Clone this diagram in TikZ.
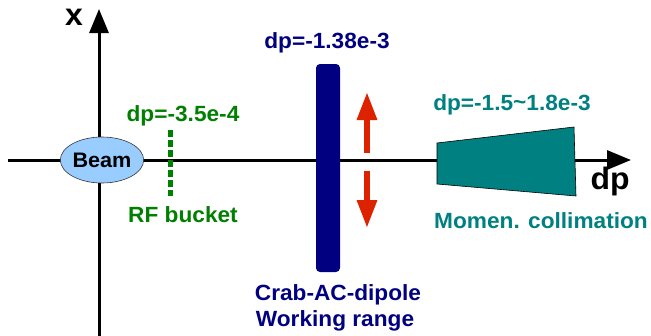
\documentclass[tikz,border=0pt]{standalone}
\usepackage{fontspec}
\setmainfont[FakeStretch=1.03]{Liberation Sans}
\usetikzlibrary{arrows.meta,shapes.geometric}
\definecolor{rfgreen}{RGB}{0,128,0}
\definecolor{crabblue}{RGB}{0,0,128}
\definecolor{colteal}{RGB}{0,128,128}
\definecolor{arrred}{RGB}{221,34,0}
\definecolor{beamblue}{RGB}{153,204,255}
\tikzset{
  lbl/.style={font=\bfseries\fontsize{22}{25}\selectfont, inner sep=0pt},
  axislbl/.style={font=\bfseries\fontsize{31}{34}\selectfont, inner sep=0pt},
  axisline/.style={line width=3pt, -{Triangle[length=24pt,width=19pt]}},
  redarrow/.style={line width=6pt, arrred, -{Triangle[length=28pt,width=19pt]}},
}
\begin{document}
\begin{tikzpicture}[x=1pt,y=-1pt]
\useasboundingbox (0,0) rectangle (651,335);
% axes
\coordinate (hstart) at (8,160);
\coordinate (hend) at (631,160);
\coordinate (vstart) at (99,336);
\coordinate (vend) at (99,9);
\draw[axisline] (hstart) -- (hend);
\draw[axisline] (vstart) -- (vend);
\node[axislbl] (xl) at (74,17) {x};
\node[axislbl] (dpl) at (610,181) {dp};
% beam
\node[ellipse, draw=black!80, line width=0.6pt, fill=beamblue, minimum width=80pt, minimum height=46pt, inner sep=0pt, font=\bfseries\fontsize{21}{24}\selectfont] (beam) at (102,160) {Beam};
% RF bucket
\coordinate (rftop) at (170,130);
\coordinate (rfbot) at (170,196);
\draw[rfgreen, line width=5pt, dash pattern=on 7pt off 3pt] (rftop) -- (rfbot);
\node[lbl, text=rfgreen] (rfdp) at (183,116) {dp=-3.5e-4};
\node[lbl, text=rfgreen] (rfl) at (183,215) {RF bucket};
% crab dipole bar
\node[fill=crabblue, rounded corners=4pt, minimum width=24pt, minimum height=208pt, inner sep=0pt] (bar) at (328,168) {};
\node[lbl, text=crabblue] (crabdp) at (327,43) {dp=-1.38e-3};
\node[lbl, text=crabblue] (crab1) at (338,295) {Crab-AC-dipole};
\node[lbl, text=crabblue] (crab2) at (335,321) {Working range};
% red arrows
\coordinate (upstart) at (367,153);
\coordinate (upend) at (367,92);
\coordinate (dnstart) at (367,171);
\coordinate (dnend) at (367,228);
\draw[redarrow] (upstart) -- (upend);
\draw[redarrow] (dnstart) -- (dnend);
% momentum collimator
\draw[fill=colteal, draw=black, line width=0.6pt] (437,143) -- (574,127) -- (576,196) -- (437,184) -- cycle;
\node[lbl, text=colteal] (coldp) at (512,105) {dp=-1.5\raisebox{0.1ex}{\textasciitilde}1.8e-3};
\node[lbl, text=colteal] (coll) at (541,221) {Momen. collimation};
\end{tikzpicture}
\end{document}
